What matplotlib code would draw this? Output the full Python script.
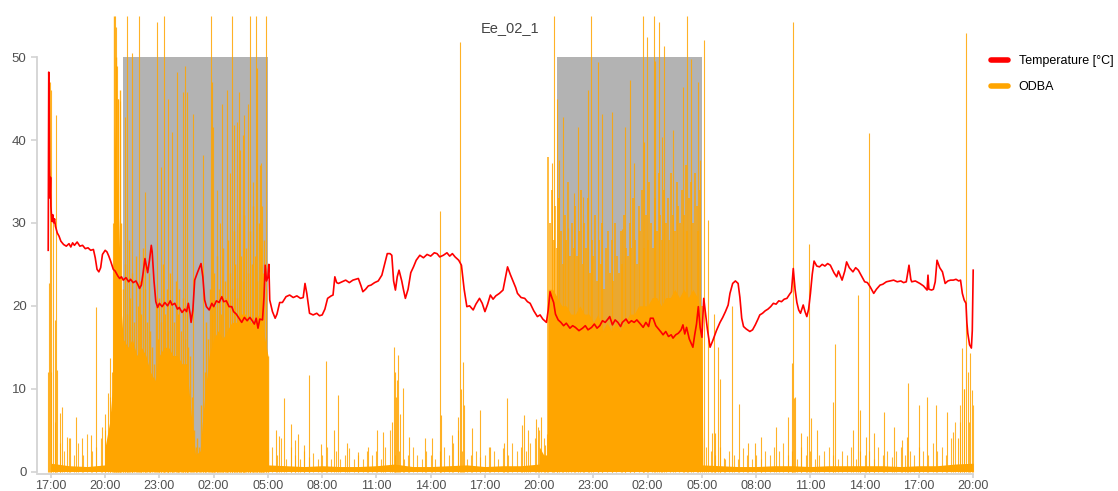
import numpy as np
import matplotlib
matplotlib.use('Agg')
import matplotlib.pyplot as plt
from matplotlib.lines import Line2D

plt.rcParams['font.family'] = ['Liberation Sans', 'DejaVu Sans']

# hours since 17:00 of day 1
tick_hours = [0, 3, 6, 9, 12, 15, 18, 21, 24, 27, 30, 33, 36, 39, 42, 45, 48, 51]
tick_labels = ['17:00', '20:00', '23:00', '02:00', '05:00', '08:00', '11:00', '14:00',
               '17:00', '20:00', '23:00', '02:00', '05:00', '08:00', '11:00', '14:00',
               '17:00', '20:00']

night_start = [4, 28]
night_end = [12, 36]
night_top = 50

temp_hours = [-0.15, -0.12, -0.1, -0.08, -0.05, -0.02, 0.0, 0.05, 0.1, 0.15, 0.2, 0.25, 0.35, 0.45,
              0.55, 0.7, 0.85, 1.0, 1.1, 1.2, 1.3, 1.45, 1.6, 1.75, 1.9, 2.05, 2.2, 2.35, 2.45, 2.55,
              2.65, 2.75, 2.85, 3.0, 3.1, 3.2, 3.3, 3.45, 3.55, 3.7, 3.8, 3.9, 4.0, 4.15, 4.3, 4.4,
              4.55, 4.7, 4.8, 4.9, 5.0, 5.1, 5.2, 5.3, 5.35, 5.45, 5.55, 5.6, 5.7, 5.8, 5.9, 6.0,
              6.15, 6.3, 6.45, 6.6, 6.7, 6.85, 7.0, 7.1, 7.25, 7.4, 7.5, 7.6, 7.7, 7.75, 7.85, 7.95,
              8.1, 8.3, 8.4, 8.5, 8.6, 8.75, 8.9, 9.0, 9.15, 9.3, 9.45, 9.55, 9.7, 9.85, 10.0, 10.1,
              10.25, 10.4, 10.55, 10.7, 10.85, 11.0, 11.1, 11.25, 11.35, 11.45, 11.55, 11.7, 11.78,
              11.85, 11.92, 12.0, 12.05, 12.1, 12.25, 12.4, 12.5, 12.65, 12.8, 13.0, 13.2, 13.4,
              13.6, 13.8, 13.95, 14.05, 14.15, 14.3, 14.5, 14.7, 14.85, 15.0, 15.15, 15.3, 15.5,
              15.6, 15.7, 15.8, 15.9, 16.1, 16.3, 16.5, 16.7, 16.85, 17.0, 17.15, 17.25, 17.4,
              17.55, 17.7, 17.9, 18.1, 18.3, 18.45, 18.6, 18.75, 18.85, 18.95, 19.05, 19.15, 19.25,
              19.4, 19.5, 19.6, 19.75, 19.9, 20.05, 20.2, 20.4, 20.6, 20.8, 21.0, 21.2, 21.35, 21.5,
              21.7, 21.9, 22.05, 22.2, 22.35, 22.55, 22.7, 22.85, 23.0, 23.15, 23.35, 23.5, 23.7,
              23.85, 24.0, 24.15, 24.3, 24.45, 24.6, 24.8, 25.0, 25.1, 25.25, 25.4, 25.55, 25.7,
              25.8, 26.0, 26.2, 26.35, 26.5, 26.7, 26.9, 27.05, 27.2, 27.4, 27.5, 27.6, 27.7, 27.8,
              27.9, 28.05, 28.2, 28.35, 28.5, 28.7, 28.85, 29.0, 29.2, 29.4, 29.55, 29.7, 29.9,
              30.05, 30.2, 30.35, 30.5, 30.65, 30.8, 30.9, 31.05, 31.2, 31.35, 31.5, 31.6, 31.8,
              31.95, 32.1, 32.25, 32.4, 32.6, 32.75, 32.9, 33.05, 33.15, 33.3, 33.45, 33.6, 33.75,
              33.85, 34.0, 34.15, 34.3, 34.4, 34.55, 34.7, 34.85, 34.95, 35.05, 35.15, 35.3, 35.4,
              35.5, 35.6, 35.7, 35.8, 35.9, 36.0, 36.1, 36.2, 36.3, 36.45, 36.6, 36.8, 37.0, 37.15,
              37.3, 37.45, 37.55, 37.7, 37.85, 38.0, 38.1, 38.2, 38.3, 38.45, 38.65, 38.8, 38.95,
              39.1, 39.2, 39.35, 39.5, 39.65, 39.8, 39.95, 40.1, 40.25, 40.4, 40.55, 40.7, 40.85,
              40.95, 41.05, 41.15, 41.25, 41.35, 41.45, 41.6, 41.7, 41.8, 41.9, 42.0, 42.1, 42.2,
              42.35, 42.5, 42.65, 42.8, 42.95, 43.1, 43.3, 43.45, 43.55, 43.75, 43.9, 44.0, 44.15,
              44.35, 44.5, 44.65, 44.8, 45.0, 45.15, 45.3, 45.5, 45.65, 45.85, 46.0, 46.2, 46.4,
              46.6, 46.8, 47.0, 47.15, 47.3, 47.45, 47.55, 47.6, 47.8, 48.05, 48.25, 48.45, 48.5,
              48.55, 48.7, 48.8, 48.9, 49.0, 49.15, 49.3, 49.45, 49.6, 49.75, 49.9, 50.05, 50.2,
              50.3, 50.4, 50.5, 50.6, 50.65, 50.7, 50.8, 50.9, 50.95, 51.0]
temp_values = [26.7, 48.2, 46, 36.7, 33, 35.5, 32, 30.2, 31, 30, 30.5, 29.6, 28.8, 28.4,
               27.8, 27.4, 27.2, 27.5, 27.1, 27.6, 27.3, 27.7, 27.2, 27.3, 26.9, 27.0, 26.7, 26.8, 25.8, 24.4,
               24.1, 24.6, 26.2, 26.7, 26.5, 26.0, 25.4, 24.4, 24.2, 23.6, 23.3, 23.5, 23.1, 23.4, 22.9, 23.2,
               22.8, 23.0, 22.6, 22.1, 22.5, 24.0, 25.7, 24.6, 24.0, 25.5, 27.3, 26.5, 23.0, 20.5, 19.8, 20.3,
               19.9, 20.4, 20.0, 20.6, 20.1, 20.3, 19.6, 19.8, 19.2, 19.6, 19.3, 20.3, 19.0, 18.0, 19.5, 23.1,
               24.0, 25.1, 23.5, 20.7, 19.9, 19.5, 20.3, 19.9, 20.6, 20.4, 21.1, 20.5, 20.6, 19.9, 19.9, 19.3,
               19.0, 18.5, 18.0, 18.6, 18.2, 18.6, 18.3, 17.8, 18.5, 17.3, 18.4, 18.3, 21.0,
               24.9, 23.0, 23.5, 25.0, 20.7, 19.3, 18.5, 19.0, 20.4, 20.4, 21.1, 21.3, 21.0,
               21.2, 20.9, 21.0, 22.7, 21.5, 19.1, 18.9, 19.1, 18.8, 18.9, 19.6, 20.9, 21.2,
               21.3, 23.5, 22.8, 22.7, 22.9, 23.1, 22.8, 23.1, 23.2, 23.3, 22.4, 21.7, 22.0,
               22.4, 22.5, 22.8, 23.0, 23.7, 25.0, 26.3, 26.3, 26.1, 23.0, 21.9, 23.5, 24.3,
               23.0, 21.9, 20.9, 22.0, 24.0, 24.7, 25.5, 26.1, 25.8, 26.2, 26.0, 26.4, 26.3, 25.9,
               26.1, 26.4, 26.0, 26.3, 25.9, 25.5, 24.9, 22.0, 19.9, 20.0, 19.5, 20.2, 20.9,
               20.3, 19.3, 20.2, 21.3, 20.8, 21.2, 21.5, 21.9, 23.0, 24.7, 23.8, 23.0, 22.2,
               21.5, 21.0, 20.9, 20.5, 20.3, 19.4, 18.7, 18.9, 18.4, 18.0, 19.5, 21.7, 21.0, 20.4,
               19.0, 18.3, 18.0, 17.6, 17.9, 17.3, 17.6, 17.4, 17.0, 17.3, 17.6, 17.1, 17.4,
               17.8, 17.3, 17.6, 18.2, 18.0, 18.4, 18.7, 17.7, 18.3, 18.0, 17.5, 18.0, 18.4,
               17.9, 18.2, 18.0, 18.3, 17.8, 17.4, 18.0, 17.5, 18.5, 18.5, 17.6, 17.2, 16.8,
               16.5, 16.9, 16.3, 16.5, 16.1, 16.5, 16.7, 17.1, 17.7, 16.6, 17.4, 16.0, 15.5,
               15.0, 16.5, 17.8, 19.9, 17.4, 16.2, 20.9, 19.0, 17.2, 15.0, 15.8, 17.0, 18.0, 18.6,
               19.3, 20.1, 21.5, 22.7, 23.0, 22.7, 21.0, 18.5, 17.5, 17.2, 16.9, 17.1, 17.7,
               18.4, 18.9, 19.1, 19.4, 19.6, 19.9, 20.3, 20.2, 20.6, 20.5, 20.8, 20.9, 21.4,
               21.7, 24.5, 22.0, 20.4, 19.5, 19.1, 20.1, 19.3, 18.7, 19.6, 21.5, 23.8, 25.4,
               24.8, 24.7, 25.0, 24.8, 25.1, 24.9, 24.0, 23.5, 24.2, 23.1, 24.2, 25.3, 24.6,
               24.1, 24.6, 24.3, 23.7, 22.9, 22.8, 22.3, 21.5, 22.0, 22.5, 22.6, 22.9, 23.0,
               23.1, 22.9, 23.0, 22.8, 22.9, 24.9, 23.2, 22.9, 23.0, 22.7, 22.4, 21.9, 23.7,
               22.0, 21.9, 22.0, 22.9, 25.5, 24.6, 24.1, 22.7, 23.0, 23.1, 23.1, 23.2, 23.0,
               23.1, 21.5, 20.7, 20.3, 18.0, 16.7, 15.3, 14.9, 17.0, 24.3]

# low background activity, one value per hour from 17:00
base_values = [1.0, 0.7, 0.6, 0.8, 0.7, 0.7, 0.7, 0.7, 0.7, 0.7, 0.7, 0.7, 0.8, 0.7, 0.6, 0.7,
               0.6, 0.6, 0.7, 0.9, 0.6, 0.6, 0.7, 0.8, 0.6, 0.7, 0.7, 0.9, 0.7, 0.7, 0.7, 0.7,
               0.7, 0.7, 0.7, 0.7, 0.8, 0.7, 0.6, 0.6, 0.7, 0.7, 0.6, 0.7, 0.7, 0.7, 0.7, 0.6,
               0.7, 0.7, 0.9, 1.0]

# minor bursts every 15 min from 17:00
minor_values = [12, 6, 3.5, 2.5, 4, 2, 3.5, 2, 4.5, 2.5, 3, 4,
                5, 9, 2, 2, 2, 2, 2, 2, 2, 2, 2, 2,
                2, 2, 2, 2, 2, 2, 2, 2, 2, 2, 2, 2,
                2, 2, 2, 2, 2, 2, 2, 2, 2, 2, 2, 2,
                2.5, 3, 2, 4, 1.5, 3, 2, 1.5, 2.5, 1.8, 2.2, 1.5,
                2, 3, 1.5, 2.5, 1.5, 2, 2.8, 1.5, 2, 1.5, 2.5, 2,
                2.5, 1.5, 3, 5, 2, 2.5, 1.5, 2, 3, 2, 1.5, 2.5,
                2, 1.5, 2.5, 3, 2, 3.5, 5, 2.5, 1.5, 2, 2.5, 1.8,
                2, 3, 2.5, 1.5, 2.8, 2, 3.5, 2.5, 3, 2.5, 3.5, 4,
                5, 4, 2, 2, 2, 2, 2, 2, 2, 2, 2, 2,
                2, 2, 2, 2, 2, 2, 2, 2, 2, 2, 2, 2,
                2, 2, 2, 2, 2, 2, 2, 2, 2, 2, 2, 2,
                4, 3, 2.5, 2, 3, 1.5, 2.5, 2, 1.5, 2.8, 2, 1.5,
                2, 1.5, 2.5, 2, 3, 2.5, 3.5, 2, 2.5, 1.5, 3, 2,
                2.5, 1.5, 2, 2.5, 3, 2, 1.5, 2.5, 2, 3, 1.5, 2.5,
                2, 2.5, 1.5, 3, 2, 2.5, 1.8, 2.5, 3, 2, 2.5, 2,
                3, 2.5, 2, 3.5, 2.5, 3, 2, 4, 6, 8, 10, 6,
                8]

# solid core of the night activity
night1_env_hours = [3.0, 3.25, 3.4, 3.5, 3.75, 3.9, 4.0, 4.25, 4.5, 4.75, 5.0, 5.25, 5.5, 5.75,
                    6.0, 6.25, 6.5, 6.75, 7.0, 7.25, 7.5, 7.75, 8.0, 8.25, 8.5, 8.75, 9.0, 9.25,
                    9.5, 9.75, 10.0, 10.25, 10.5, 10.75, 11.0, 11.25, 11.5, 11.75, 12.0, 12.03]
night1_env = [3, 6, 10, 42, 30, 19, 16, 15, 16, 14, 15, 14, 12, 11,
              14, 15, 15, 14, 14, 13, 13, 7, 2, 2.5, 9, 14, 16, 17,
              16, 17, 18, 18, 19, 19, 18, 18, 19, 17, 14, 0.8]
night2_env_hours = [27.0, 27.25, 27.45, 27.5, 27.75, 28.0, 28.25, 28.5, 28.75, 29.0, 29.25, 29.5,
                    29.75, 30.0, 30.25, 30.5, 30.75, 31.0, 31.25, 31.5, 31.75, 32.0, 32.25, 32.5,
                    32.75, 33.0, 33.25, 33.5, 33.75, 34.0, 34.25, 34.5, 34.75, 35.0, 35.25, 35.5,
                    35.75, 36.0, 36.05]
night2_env = [3, 2, 2, 22, 22, 21, 20, 20, 19, 19, 20, 19,
              19, 18, 19, 17, 18, 17, 18, 17, 18, 19, 19, 20,
              20, 20, 21, 21, 20, 21, 21, 22, 21, 22, 21, 22,
              21, 18, 0.8]

# ragged tops inside the nights, every 6 min
night1_tops = [55, 50, 45, 46, 30,
               22, 25, 19, 28, 21, 24, 18, 26, 20, 23,
               19, 27, 22, 18, 24, 17, 15, 13, 20, 16,
               21, 18, 25, 19, 22, 17, 24, 20, 18, 23,
               19, 22, 17, 21, 16, 20, 15, 14, 9, 5,
               3, 4, 3, 8, 6, 12, 18, 16, 22, 19,
               24, 20, 26, 22, 19, 27, 23, 21, 28, 24,
               22, 29, 25, 21, 30, 26, 23, 31, 27, 24,
               29, 25, 32, 26, 23, 30, 27, 24, 28, 22,
               14]
night2_tops = [38, 30, 34, 28, 32,
               27, 33, 29, 25, 31, 28, 35, 26, 30, 27,
               32, 26, 29, 34, 25, 30, 27, 33, 24, 28,
               26, 31, 23, 28, 25, 30, 22, 27, 29, 24,
               28, 23, 30, 26, 24, 29, 25, 31, 27, 26,
               30, 27, 33, 28, 25, 32, 29, 34, 27, 31,
               28, 35, 30, 27, 33, 29, 36, 31, 28, 34,
               30, 33, 28, 36, 31, 29, 35, 32, 30, 34,
               31, 37, 29, 33, 35, 30, 36, 32, 29, 34,
               20]

# single peaks
spike_hours = [-0.17, -0.11, -0.06, 0.0, 0.11, 0.22, 0.28, 0.33, 0.5, 0.61, 0.88, 1.05, 1.38, 1.71,
               2.21, 2.49, 2.82, 2.99, 3.15, 3.26, 3.37, 3.43,
               3.54, 3.6, 3.65, 3.71, 3.82, 4.09, 4.2, 4.48, 4.87, 5.2, 5.86, 6.08, 6.25, 6.47,
               6.69, 6.97, 7.3, 7.41, 7.52, 7.85, 8.41, 8.85, 8.9, 8.96, 9.18, 9.35, 9.46, 9.73,
               9.9, 10.01, 10.12, 10.29, 10.4, 10.45, 10.62, 10.67, 10.9, 11.01, 11.17, 11.34,
               11.39, 11.56, 11.61, 11.67, 11.89,
               12.44, 12.61, 12.89, 13.27, 13.5, 13.66, 13.99, 14.27, 14.93, 15.21, 15.65, 15.87,
               16.37, 16.98, 17.53, 18.03, 18.36, 18.86, 18.97, 19.03, 19.08, 19.14, 19.19, 19.3,
               19.47, 19.8, 20.69, 21.07, 21.52, 21.57, 22.18, 22.51, 22.62, 22.68, 22.79, 22.84,
               23.29, 23.73, 24.28, 25.06, 25.22, 26.05, 26.16, 26.38, 26.83, 26.94, 27.1, 27.32,
               27.43,
               27.71, 27.82, 27.99, 28.1, 28.32, 28.6, 28.93, 29.15, 29.42, 29.7, 29.87, 30.25,
               30.48, 31.03, 31.58, 31.75, 32.02, 32.24, 32.74, 32.8, 32.96, 33.35, 33.41, 33.63,
               33.8, 33.91, 34.4, 34.96, 35.18, 35.4, 35.78, 35.9, 36.12, 36.34,
               36.56, 36.67, 36.73, 36.89, 37.0, 37.22, 37.67, 38.05, 38.55, 38.94, 39.27, 40.1,
               40.76, 40.98, 41.04, 41.1, 41.15, 41.48, 41.81, 41.92, 42.04, 42.37, 43.25, 43.36,
               44.36, 44.63, 44.75, 45.08, 45.24, 45.52, 46.07, 46.63, 47.07, 47.35, 47.4, 48.01,
               48.45, 48.95, 49.56, 49.89, 50.17, 50.28, 50.39, 50.5, 50.61, 50.72, 50.83, 50.94]
spike_values = [12, 22.7, 47, 46, 30, 18.3, 43, 12.2, 7.1, 7.8, 4.2, 4, 6.6, 4,
                4.4, 19.8, 5.4, 7, 9.5, 13.7, 12, 30,
                55, 53.6, 49, 45, 44.7, 42.8, 55, 50.5, 55, 33.7, 54.3, 36.7, 55, 45,
                41, 48.2, 45.8, 49, 45.8, 43.2, 38.2, 55, 47, 41.6, 34, 30, 44.4, 46,
                36, 55, 41.8, 42.2, 45.8, 38.8, 40.6, 43, 44.4, 55, 35, 55,
                48.7, 37, 37.2, 32, 55,
                5.0, 4.3, 8.9, 5.7, 3.8, 4.5, 3.2, 11.6, 3.3, 13.3, 5.0, 9.2,
                3.4, 2.4, 3.0, 5.0, 4.8, 6, 15.0, 12, 9, 11.0, 14.1, 7,
                10.1, 4.2, 4.0, 4.0, 31.5, 6.8, 4.4, 6.6, 51.8, 10, 13.2, 8,
                5.2, 7.4, 3.0, 3.4, 8.9, 5.6, 6.8, 5.0, 6.3, 5.4, 6.6, 3.2,
                4.5,
                37.2, 55, 45, 37.6, 42.8, 29.4, 33.6, 41.6, 33.1, 46, 55, 49.4,
                43.2, 43.4, 29.3, 41.6, 47.2, 37.2, 55, 39.8, 52.4, 55, 49.5, 54.3,
                40.4, 51.3, 41.2, 46.4, 55, 49.8, 47, 37.6, 52.1, 30.3,
                4.6, 19, 4.6, 15, 11.2, 1.6, 20, 8.1, 3.4, 3.4, 4.2, 5.4,
                6.6, 13.1, 54.3, 8.9, 9.0, 4.6, 4.3, 27.5, 6.5, 5.0, 8.4, 15.4,
                5.0, 21.3, 7.4, 4.2, 40.8, 4.6, 7.2, 5.4, 3.8, 4.2, 10.7, 8.0,
                9.0, 8.0, 7.2, 4.8, 4.0, 6, 14.9, 10, 52.9, 12, 14.3, 9.8]

orange = '#ffa500'
axis_grey = '#d3d3d3'
text_grey = '#505050'

base_hours = np.arange(len(base_values))
minor_hours = np.arange(len(minor_values)) * 0.25
night1_top_hours = 3.5 + np.arange(len(night1_tops)) * 0.1
night2_top_hours = 27.5 + np.arange(len(night2_tops)) * 0.1

fig = plt.figure(figsize=(11.18, 4.91), dpi=100)
ax = fig.add_axes([37/1118, 17/491, 938/1118, 459/491])

for s, e in zip(night_start, night_end):
    ax.fill_between([s, e], 0, night_top, color='#b3b3b3', lw=0, zorder=1)

ax.fill_between(base_hours, 0, base_values, color=orange, lw=0, zorder=2)
ax.vlines(minor_hours, 0, minor_values, color=orange, lw=0.8, alpha=0.8, zorder=2)
ax.fill_between(night1_env_hours, 0, night1_env, color=orange, lw=0, zorder=2)
ax.fill_between(night2_env_hours, 0, night2_env, color=orange, lw=0, zorder=2)
ax.vlines(night1_top_hours, 0, night1_tops, color=orange, lw=1.0, alpha=0.9, zorder=2)
ax.vlines(night2_top_hours, 0, night2_tops, color=orange, lw=1.1, alpha=0.95, zorder=2)
ax.vlines(spike_hours, 0, spike_values, color=orange, lw=0.8, alpha=0.85, zorder=2)

ax.plot(temp_hours, temp_values, color='#ff0000', lw=1.2, zorder=3)

ax.set_xlim(-0.77, 51.1)
ax.set_ylim(-0.3, 55.1)
ax.set_xticks(tick_hours)
ax.set_xticklabels(tick_labels)
ax.set_yticks([0, 10, 20, 30, 40, 50])

for side in ['top', 'right']:
    ax.spines[side].set_visible(False)
ax.spines['left'].set_bounds(0, 50)
ax.spines['bottom'].set_bounds(-0.77, 51)
for side in ['left', 'bottom']:
    ax.spines[side].set_color(axis_grey)
    ax.spines[side].set_linewidth(1.3)
ax.tick_params(axis='both', colors=axis_grey, width=1.2, length=4, labelsize=9.5,
               labelcolor=text_grey)
ax.tick_params(axis='x', length=3, pad=1, labelsize=9)

fig.text(510/1118, 1 - 28/491, 'Ee_02_1', ha='center', va='center', fontsize=10.5,
         color='#444444')

handles = [Line2D([], [], color='#ff0000', lw=4, solid_capstyle='round'),
           Line2D([], [], color=orange, lw=4, solid_capstyle='round')]
fig.legend(handles, ['Temperature [°C]', 'ODBA'], loc='upper left',
           bbox_to_anchor=(980/1118, 1 - 44/491), frameon=False, fontsize=9,
           handlelength=1.3, handletextpad=0.9, labelspacing=1.1)

plt.savefig('out.png', dpi=100)
